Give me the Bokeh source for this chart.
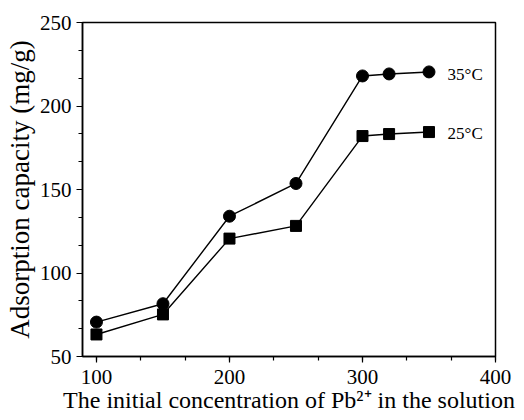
from bokeh.plotting import figure
from bokeh.models import Range1d, SingleIntervalTicker, Label
from bokeh.embed import file_html
from bokeh.resources import INLINE

# Data
conc = [100, 150, 200, 250, 300, 320, 350]
q_35 = [70.6, 81.6, 134.0, 153.6, 218.0, 219.2, 220.4]
q_25 = [63.2, 75.2, 120.6, 128.2, 182.0, 183.2, 184.4]
series_labels = ["35°C", "25°C"]
x_title = "The initial concentration of Pb²⁺ in the solution"
y_title = "Adsorption capacity (mg/g)"

SERIF = "Liberation Serif"

p = figure(width=524, height=420, output_backend="svg", toolbar_location=None,
           x_range=Range1d(89.5, 400), y_range=Range1d(50, 250))
p.min_border_left = 82
p.min_border_right = 29
p.min_border_top = 22
p.min_border_bottom = 64
p.background_fill_color = "white"
p.border_fill_color = "white"
p.outline_line_color = "black"
p.outline_line_width = 1.5
p.xgrid.visible = False
p.ygrid.visible = False

p.xaxis.ticker = SingleIntervalTicker(interval=100, num_minor_ticks=3)
p.yaxis.ticker = SingleIntervalTicker(interval=50, num_minor_ticks=3)
for ax in list(p.xaxis) + list(p.yaxis):
    ax.axis_line_width = 1.5
    ax.axis_line_color = "black"
    ax.major_tick_line_color = "black"
    ax.minor_tick_line_color = "black"
    ax.major_tick_line_width = 1.2
    ax.minor_tick_line_width = 1.2
    ax.major_tick_in = 0
    ax.major_tick_out = 6
    ax.minor_tick_in = 0
    ax.minor_tick_out = 4
    ax.major_label_text_font = SERIF
    ax.major_label_text_font_size = "21px"
    ax.major_label_text_color = "black"
    ax.axis_label_text_font = SERIF
    ax.axis_label_text_font_style = "normal"
    ax.axis_label_text_color = "black"

p.xaxis.major_label_standoff = 7
p.yaxis.major_label_standoff = 5
p.xaxis.axis_label = x_title
p.xaxis.axis_label_text_font_size = "24px"
p.xaxis.axis_label_standoff = 0
p.yaxis.axis_label = y_title
p.yaxis.axis_label_text_font_size = "27px"
p.yaxis.axis_label_standoff = 2

# Series
p.line(conc, q_35, line_color="black", line_width=1.4)
p.scatter(conc, q_35, marker="circle", size=12, fill_color="black", line_color="black")
p.line(conc, q_25, line_color="black", line_width=1.4)
p.scatter(conc, q_25, marker="square", size=11, fill_color="black", line_color="black")

# Series labels
p.add_layout(Label(x=364, y=218.6, text=series_labels[0], text_font=SERIF,
                   text_font_size="17px", text_color="black", text_baseline="alphabetic"))
p.add_layout(Label(x=364, y=183.8, text=series_labels[1], text_font=SERIF,
                   text_font_size="17px", text_color="black", text_baseline="alphabetic"))

open("out.html", "w").write(file_html(p, INLINE))
